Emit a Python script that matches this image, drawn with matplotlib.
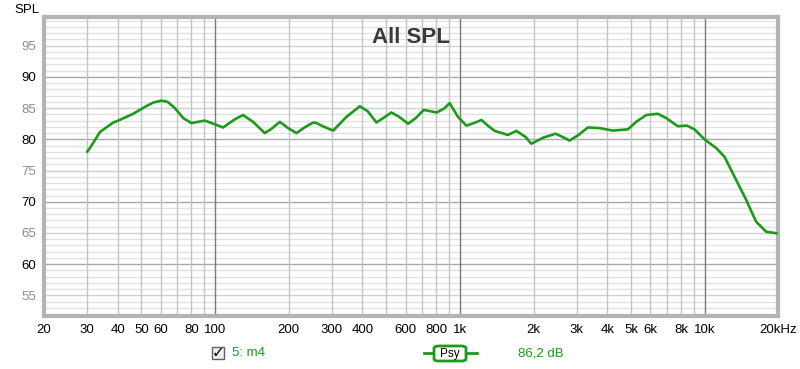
# All SPL frequency response, recreated
import numpy as np
import matplotlib.pyplot as plt
from matplotlib.patches import FancyBboxPatch, Rectangle

# === Data ===
freq = [30, 30.8, 33.9, 38.4, 40.2, 46.3, 52.5, 56, 60.4, 64, 68.5, 74.1, 80.1, 85, 90.8,
        100, 107.8, 120.4, 130, 142.9, 159.6, 170, 183.8, 198.7, 214.9, 230, 243.6, 252,
        260, 275, 303.6, 344, 390, 420, 456, 490, 525, 565, 614, 660, 711, 760, 802, 860,
        908, 982, 1062, 1140, 1224, 1300, 1387, 1571, 1700, 1850, 1957, 2200, 2460, 2620,
        2805, 3050, 3333, 3717, 4216, 4853, 5250, 5770, 6430, 6965, 7765, 8454, 9082,
        9980, 11140, 12050, 13440, 14770, 16220, 17830, 19680]
spl = [78.0, 78.6, 81.2, 82.7, 83.0, 84.1, 85.35, 85.9, 86.2, 86.0, 85.0, 83.4, 82.6, 82.8,
       83.0, 82.4, 81.9, 83.2, 83.9, 82.8, 81.0, 81.7, 82.8, 81.8, 81.0, 81.8, 82.4, 82.7,
       82.6, 82.1, 81.4, 83.6, 85.3, 84.5, 82.7, 83.5, 84.3, 83.6, 82.5, 83.4, 84.7, 84.5,
       84.3, 84.9, 85.8, 83.6, 82.2, 82.6, 83.1, 82.2, 81.35, 80.7, 81.35, 80.4, 79.3,
       80.3, 80.9, 80.4, 79.8, 80.7, 81.9, 81.8, 81.4, 81.6, 82.8, 83.9, 84.1, 83.4, 82.1,
       82.2, 81.6, 80.0, 78.6, 77.2, 73.5, 70.3, 66.8, 65.2, 64.95]

xticks = [20, 30, 40, 50, 60, 80, 100, 200, 300, 400, 600, 800, 1000, 2000, 3000,
          4000, 5000, 6000, 8000, 10000, 20000]
xlabels = ['20', '30', '40', '50', '60', '80', '100', '200', '300', '400', '600', '800',
           '1k', '2k', '3k', '4k', '5k', '6k', '8k', '10k', '20kHz']
yticks = [55, 60, 65, 70, 75, 80, 85, 90, 95]

plt.rcParams['font.family'] = ['Liberation Sans', 'DejaVu Sans']

fig = plt.figure(figsize=(8, 3.69), dpi=100)
ax = fig.add_axes([0.055, 0.1436, 0.918, 0.8104])
ax.set_xscale('log')
ax.set_xlim(20, 20000)
ax.set_ylim(51.7, 99.6)

# === Grid ===
for d in [10, 100, 1000]:
    for k in range(2, 10):
        f = d * k
        if 20 < f < 20000:
            ax.axvline(f, color='#c4c4c4', lw=1, zorder=1)
for f in [100, 1000, 10000]:
    ax.axvline(f, color='#7a7a7a', lw=1, zorder=1.2)
for v in range(52, 100):
    if v % 10 == 0:
        c = '#a8a8a8'
    elif v % 5 == 0:
        c = '#cfcfcf'
    else:
        c = '#e2e2e2'
    ax.axhline(v, color=c, lw=1, zorder=0.9)

# === Curve ===
ax.plot(freq, spl, color='#1c9a1c', lw=1.9, zorder=3, solid_capstyle='round',
        solid_joinstyle='round')

# === Axes styling ===
ax.minorticks_off()
ax.set_xticks(xticks)
ax.set_xticklabels(xlabels)
ax.set_yticks(yticks)
ax.tick_params(length=0, labelsize=9.5, pad=6)
for lab, v in zip(ax.get_yticklabels(), yticks):
    lab.set_color('#000000' if v % 10 == 0 else '#8c8c8c')
for s in ax.spines.values():
    s.set_color('#b4b4b4')
    s.set_linewidth(3)

ax.text(0.5, 0.93, 'All SPL', transform=ax.transAxes, ha='center', va='center',
        fontsize=16, fontweight='bold', color='#3a3a3a', zorder=4)
fig.text(0.018, 0.972, 'SPL', fontsize=9.5, ha='left', va='center')

# === Legend below ===
fig.add_artist(Rectangle((212 / 800, 1 - 359 / 369), 12 / 800, 12 / 369,
                         transform=fig.transFigure, fc='#f0f0f0', ec='#606060', lw=1,
                         zorder=1))
fig.text(218 / 800, 1 - 353 / 369, '✓', fontsize=11, ha='center', va='center',
         family=['DejaVu Sans'], fontweight='bold', zorder=3)
fig.text(232 / 800, 1 - 353 / 369, '5: m4', fontsize=9.5, color='#1c9a1c', va='center')
fig.add_artist(plt.Line2D([424 / 800, 477 / 800], [1 - 353 / 369] * 2, color='#1c9a1c',
                          lw=2, transform=fig.transFigure, zorder=1))
fig.add_artist(FancyBboxPatch((434 / 800, 1 - 361 / 369), 32 / 800, 15 / 369,
                              boxstyle='round,pad=0,rounding_size=0.006',
                              transform=fig.transFigure, fc='white', ec='#1c9a1c', lw=2,
                              zorder=2))
fig.text(450 / 800, 1 - 353.5 / 369, 'Psy', fontsize=8.5, ha='center', va='center',
         zorder=3)
fig.text(518 / 800, 1 - 353 / 369, '86,2 dB', fontsize=9.5, color='#1c9a1c', va='center')

fig.savefig('out.png', dpi=100)
